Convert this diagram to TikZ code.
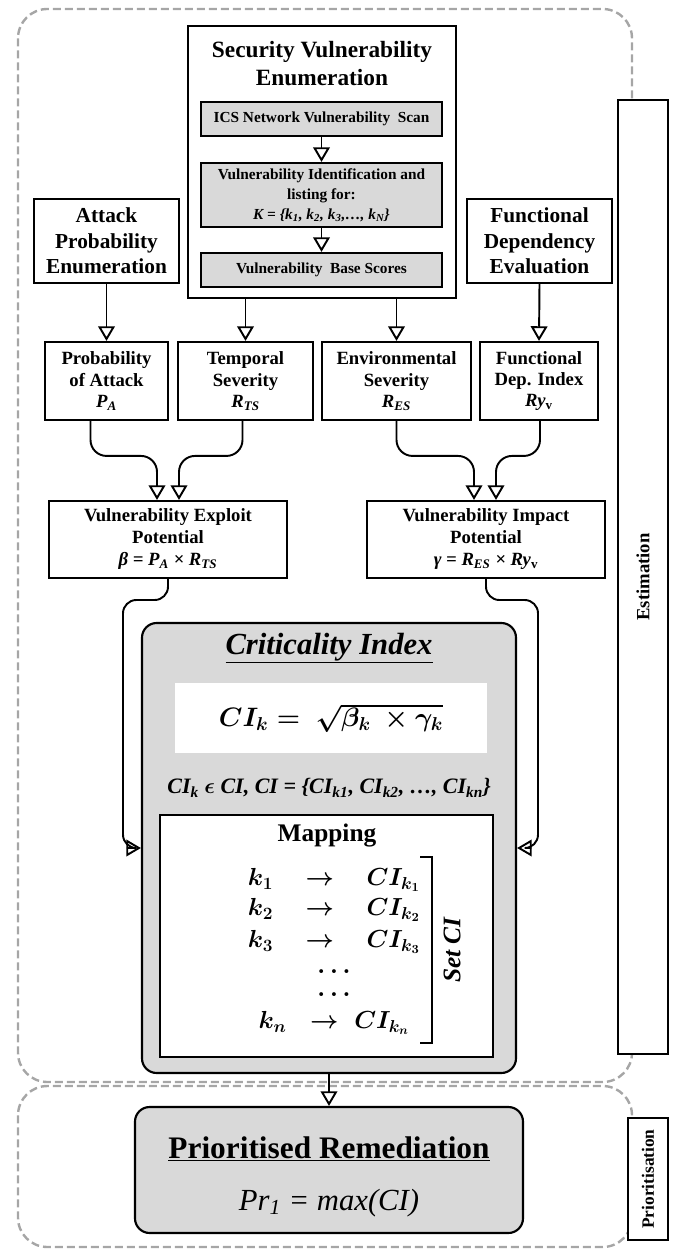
\RequirePackage{fix-cm}
\documentclass[tikz,border=0pt]{standalone}
\usepackage{fontspec}
\setmainfont{Liberation Serif}
\usetikzlibrary{arrows.meta,calc}
\definecolor{boxgray}{HTML}{D9D9D9}
\definecolor{dashgray}{HTML}{A6A6A6}
\newcommand\sbs[1]{\textsubscript{#1}}
\newcommand\fsz[2]{\fontsize{#1}{#2}\selectfont}
\begin{document}
\begin{tikzpicture}[x=0.75pt,y=-0.75pt,
  bx/.style={draw, line width=1.6pt, align=center, inner sep=0pt, fill=white},
  gbx/.style={bx, fill=boxgray},
  arr/.style={line width=1.45pt, -{Triangle[open, length=11pt, width=12.5pt, line width=1.45pt]}},
  region/.style={draw=dashgray, line width=1.8pt, dash pattern=on 6pt off 3pt, rounded corners=22pt},
  tx/.style={inner sep=0pt, align=center},
  rowtx/.style={inner sep=0pt, font=\fsz{18.5}{22}\boldmath},
  sidelbl/.style={bx, rotate=90}
]
\useasboundingbox (0,0) rectangle (672,1251);

% dashed regions
\draw[region] (18,9) rectangle (632,1082);
\draw[region] (18,1086) rectangle (632,1247);

% side labels
\node[sidelbl, minimum width=716pt, minimum height=37.5pt, font=\fsz{14}{16}\bfseries] (est) at (643,577) {Estimation};
\node[sidelbl, minimum width=91.5pt, minimum height=30pt, font=\fsz{13}{15}\bfseries] (pri) at (648,1179) {Prioritisation};

% security vulnerability enumeration
\node[bx, minimum width=201pt, minimum height=204pt] (sec) at (322,162) {};
\node[tx, font=\fsz{17.5}{21}\bfseries] (sectitle) at (322,64) {Security Vulnerability\\Enumeration};
\node[gbx, minimum width=180.75pt, minimum height=25.5pt, font=\fsz{11.5}{15}\bfseries] (ics) at (321.5,119) {ICS Network Vulnerability\ \ Scan};
\node[gbx, minimum width=180.75pt, minimum height=48pt, font=\fsz{11.5}{15}\bfseries] (ident) at (321.5,195) {Vulnerability Identification and\\listing for:\\\textit{K = \{k\sbs{1}, k\sbs{2}, k\sbs{3},…, k\sbs{N}\}}};
\node[gbx, minimum width=180.75pt, minimum height=25.5pt, font=\fsz{11.5}{15}\bfseries] (base) at (321.5,270) {Vulnerability\ \ Base Scores};
\draw[arr] (ics.south) -- (ident.north);
\draw[arr] (ident.south) -- (base.north);

% side top boxes
\node[bx, minimum width=108.75pt, minimum height=63pt, font=\fsz{16}{19}\bfseries] (att) at (106.5,241) {Attack\\Probability\\Enumeration};
\node[bx, minimum width=108.75pt, minimum height=63pt, font=\fsz{16}{19}\bfseries] (fde) at (539.5,241) {Functional\\Dependency\\Evaluation};

% second row
\node[bx, minimum width=92.25pt, minimum height=58.5pt, font=\fsz{14}{16}\bfseries] (prob) at (106.5,381) {Probability\\of Attack\\\textit{P\sbs{A}}};
\node[bx, minimum width=101.25pt, minimum height=58.5pt, font=\fsz{14}{16}\bfseries] (temp) at (245.5,381) {Temporal\\Severity\\\textit{R\sbs{TS}}};
\node[bx, minimum width=111.75pt, minimum height=58.5pt, font=\fsz{14}{16}\bfseries] (env) at (396.5,381) {Environmental\\Severity\\\textit{R\sbs{ES}}};
\node[bx, minimum width=88.5pt, minimum height=58.5pt, font=\fsz{14}{16}\bfseries] (fdi) at (539,381) {Functional\\Dep. Index\\\textit{Ry}\sbs{v}};

\draw[arr] (att.south) -- (prob.north);
\draw[arr] (sec.south -| temp.north) -- (temp.north);
\draw[arr] (sec.south -| env.north) -- (env.north);
\draw[arr] (fde.south) -- (fdi.north);

% potentials
\node[bx, minimum width=178.5pt, minimum height=57.75pt, font=\fsz{14}{16.5}\bfseries] (expl) at (168,539.5) {Vulnerability Exploit\\Potential\\\textit{β = P\sbs{A} × R\sbs{TS}}};
\node[bx, minimum width=178.5pt, minimum height=57.75pt, font=\fsz{14}{16.5}\bfseries] (imp) at (486,539.5) {Vulnerability Impact\\Potential\\\textit{γ = R\sbs{ES} × Ry}\sbs{v}};

\draw[arr, rounded corners=12pt] ($(prob.south)+(-16,0)$) |- ($(expl.north)+(-11,-44)$) -- ($(expl.north)+(-11,0)$);
\draw[arr, rounded corners=12pt] ($(temp.south)+(-3,0)$) |- ($(expl.north)+(11,-44)$) -- ($(expl.north)+(11,0)$);
\draw[arr, rounded corners=12pt] (env.south) |- ($(imp.north)+(-12,-44)$) -- ($(imp.north)+(-12,0)$);
\draw[arr, rounded corners=12pt] ($(fdi.south)+(1,0)$) |- ($(imp.north)+(10,-44)$) -- ($(imp.north)+(10,0)$);

% criticality index
\node[gbx, rounded corners=11pt, minimum width=280.5pt, minimum height=337.5pt] (crit) at (329,848) {};
\node[tx, font=\fsz{23}{27}\bfseries\itshape] (crittitle) at (329,648) {\underline{Criticality Index}};
\node[tx, fill=white, minimum width=234pt, minimum height=52.5pt, font=\fsz{20}{24}\boldmath] (fbox) at (331,718) {$CI_k =\ \sqrt{\beta_k\ \times\gamma_k}$};
\node[tx, font=\fsz{16.5}{20}\bfseries\itshape] (setline) at (329,788) {CI\sbs{k} {\boldmath$\epsilon$} CI, CI = \{CI\sbs{k1}, CI\sbs{k2}, …, CI\sbs{kn}\}};
\node[bx, line width=1.2pt, minimum width=249.75pt, minimum height=181.5pt] (mapbox) at (326.5,936) {};
\node[tx, font=\fsz{19}{23}\bfseries] (maptitle) at (327,835) {Mapping};
\node[rowtx] (r1) at (334,880) {$k_1 \quad\to\quad CI_{k_1}$};
\node[rowtx] (r2) at (334,910) {$k_2 \quad\to\quad CI_{k_2}$};
\node[rowtx] (r3) at (334,942) {$k_3 \quad\to\quad CI_{k_3}$};
\node[rowtx] (d1) at (334,972) {$\dots$};
\node[rowtx] (d2) at (334,995) {$\dots$};
\node[rowtx] (rn) at (334,1023) {$k_n \;\;\to\; CI_{k_n}$};
\draw[line width=1.2pt] (420,857) -- (432,857) -- (432,1043) -- (420,1043);
\node[tx, rotate=90, font=\fsz{19}{23}\bfseries\itshape] (setci) at (452,950) {Set CI};

\coordinate (lb) at (123,600);
\coordinate (rb) at (538,600);
\draw[arr, rounded corners=10pt] (expl.south) |- (lb) |- (crit.west);
\draw[arr, rounded corners=10pt] (imp.south) |- (rb) |- (crit.east);

% prioritised remediation
\node[gbx, rounded corners=11pt, minimum width=291pt, minimum height=94.5pt] (prio) at (329,1170) {};
\node[tx, font=\fsz{23.5}{27}\bfseries] (priotitle) at (329,1149) {\underline{Prioritised Remediation}};
\node[tx, font=\fsz{23}{27}\itshape] (prform) at (329,1203) {Pr\sbs{1} = max(CI)};
\draw[arr] (crit.south) -- (prio.north);
\end{tikzpicture}
\end{document}
